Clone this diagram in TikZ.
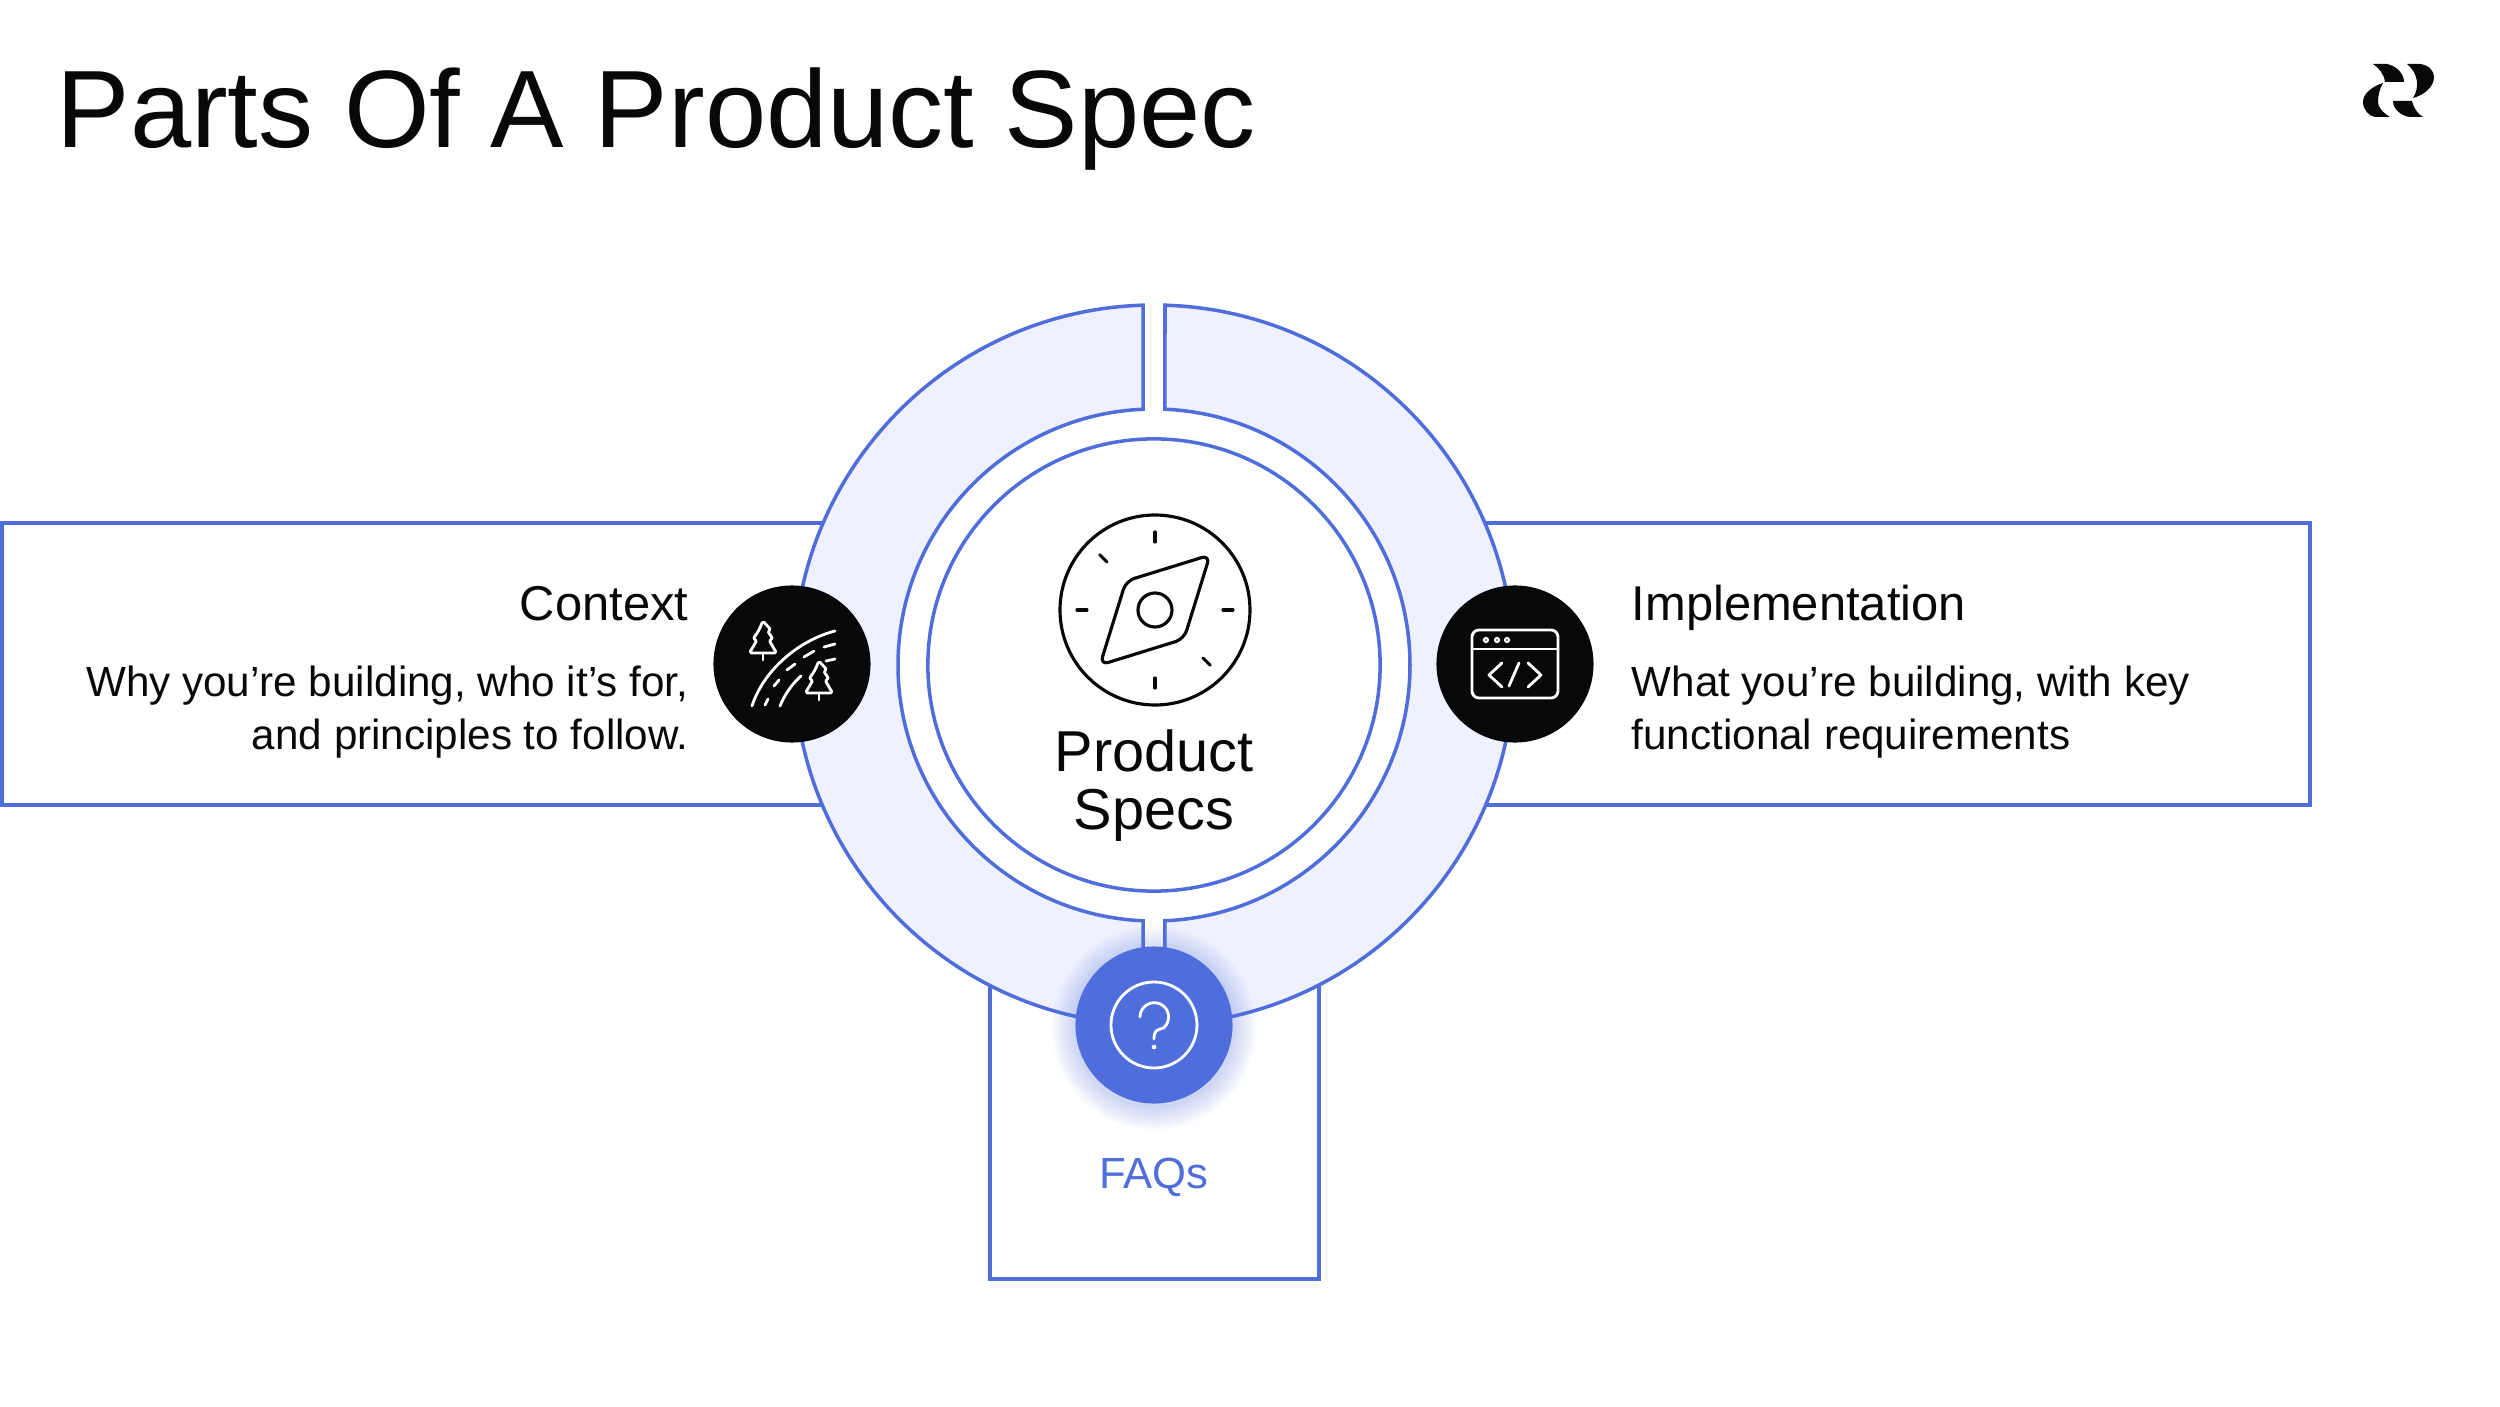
\documentclass[tikz,border=0pt]{standalone}
\usepackage{fontspec}
\usetikzlibrary{calc}
\setmainfont{Liberation Sans}
\definecolor{specblue}{HTML}{4F6EDB}
\definecolor{specfill}{HTML}{EFF1FE}
\definecolor{specink}{HTML}{070908}
\tikzset{
	partbox/.style={draw=specblue, line width=1pt, fill=white},
	ringpart/.style={draw=specblue, line width=1pt, fill=specfill},
	badge/.style={circle, inner sep=0pt, minimum size=1.57cm, fill=specink},
	iconline/.style={draw=white, line width=0.8pt, line cap=round, line join=round},
	compassline/.style={draw=specink, line width=0.9pt, line cap=round, line join=round},
	heading/.style={inner sep=0pt, text=specink, font=\fontsize{13.9pt}{16pt}\selectfont},
	bodytext/.style={inner sep=0pt, text=specink, font=\fontsize{12pt}{15pt}\selectfont},
	firtree/.pic={
		\draw[iconline, rounded corners=0.5pt] (0,0) -- (8,-9) -- (4.5,-10) -- (10,-18) -- (6,-19) -- (13.5,-32) -- (-13.5,-32) -- (-6,-19) -- (-10,-18) -- (-4.5,-10) -- cycle;
		\draw[iconline] (0,-32) -- (0,-39);
	}
}

\begin{document}
\begin{tikzpicture}[x=0.01cm, y=0.01cm]
		\useasboundingbox (-1154,665) rectangle (1346,-741);

		% boxes behind the ring
		\draw[partbox] (-1152,142) rectangle (-300,-140);
		\draw[partbox] (300,142) rectangle (1156,-140);
		\draw[partbox] (-164,-300) rectangle (165,-614);

		% ring halves and inner circle
		\draw[ringpart] (91.75:360) arc[start angle=91.75, end angle=268.25, radius=360] -- (267.54:256) arc[start angle=267.54, end angle=92.46, radius=256] -- cycle;
		\draw[ringpart] (88.25:360) arc[start angle=88.25, end angle=-88.25, radius=360] -- (-87.54:256) arc[start angle=-87.54, end angle=87.54, radius=256] -- cycle;
		\node[circle, draw=specblue, line width=1pt, minimum size=4.52cm, inner sep=0pt] (core) at (0,0) {};

		% compass
		\draw[compassline] (1,55) circle (95);
		\draw[compassline] (1,55) circle (17);
		\draw[compassline, rounded corners=2.5pt] (56,110) -- (-28,84) -- (-54,0) -- (30,26) -- cycle;
		\foreach \a in {0,90,135,180,270,315}
			\draw[compassline] ($(1,55)+(\a:68)$) -- ($(1,55)+(\a:78)$);

		% badges
		\node[badge] (context) at (-362,1) {};
		\node[badge] (impl) at (361,1) {};
		\foreach \r in {80,82,...,102}
			\fill[specblue, opacity=0.022] (0,-363) circle (\r);
		\node[badge, fill=specblue] (faq) at (0,-360) {};

		% road and trees
		\begin{scope}[shift={(context.center)}]
			\draw[iconline] (-40,-42) .. controls (-28,-5) and (8,24) .. (43,33);
			\draw[iconline] (-12,-42) .. controls (-7,-30) and (0,-20) .. (9,-12);
			\foreach \d in {{(-27,-41) -- (-24,-35)}, {(-18,-22) -- (-13,-16)}, {(-5,-6) -- (3,0)}, {(12,7) -- (22,13)}, {(32,17) -- (43,20)}, {(34,3) -- (43,5)}}
				\draw[iconline] \d;
			\pic at (-29,43) {firtree};
			\pic at (27,3) {firtree};
		\end{scope}

		% code window
		\begin{scope}[shift={(impl.center)}]
			\draw[iconline, rounded corners=2pt] (-43,34) rectangle (43,-34);
			\draw[iconline] (-43,15) -- (43,15);
			\foreach \x in {-29,-18,-8}
				\draw[white, line width=0.6pt] (\x,24) circle (2);
			\draw[iconline] (-13,1) -- (-26,-11) -- (-13,-23);
			\draw[iconline] (4,1) -- (-6,-22);
			\draw[iconline] (13,1) -- (26,-11) -- (13,-23);
		\end{scope}

		% question mark
		\begin{scope}[shift={(faq.center)}]
			\draw[iconline] (0,0) circle (43);
			\draw[iconline] (-14,8) arc[start angle=180, end angle=-50, radius=14.3] .. controls (3,-5) and (0,-5) .. (0,-14);
			\fill[white] (0,-22) circle (2.3);
		\end{scope}

		% logo
		\fill[specink] (1219,601) -- (1233,601) .. controls (1243,599) and (1250,591) .. (1250,583) -- (1231,583) .. controls (1230,591) and (1225,597) .. (1219,601) -- cycle;
		\fill[specink] (1253,601) -- (1266,601) .. controls (1275,600) and (1280,594) .. (1280,588) .. controls (1280,578) and (1270,570) .. (1259,567) .. controls (1266,578) and (1264,592) .. (1253,601) -- cycle;
		\fill[specink] (1229,582) .. controls (1217,578) and (1209,571) .. (1209,563) .. controls (1209,555) and (1215,549) .. (1221,548) -- (1236,548) .. controls (1228,553) and (1224,558) .. (1224,563) .. controls (1224,570) and (1226,577) .. (1229,582) -- cycle;
		\fill[specink] (1239,564) -- (1258,564) .. controls (1260,556) and (1264,551) .. (1269,548) -- (1256,548) .. controls (1247,549) and (1239,556) .. (1239,564) -- cycle;

		% texts
		\node[anchor=base west, inner sep=0pt, text=specink, font=\fontsize{31.3pt}{36pt}\selectfont] (title) at (-1098,517) {Parts Of A Product Spec};
		\node[heading, anchor=base east] (contexthead) at (-465,45) {Context};
		\node[bodytext, anchor=north east, align=right] (contextbody) at (-465,0) {Why you’re building, who it’s for,\\and principles to follow.};
		\node[heading, anchor=base west] (implhead) at (477,45) {Implementation};
		\node[bodytext, anchor=north west, align=left] (implbody) at (477,0) {What you’re building, with key\\functional requirements};
		\node[anchor=base, inner sep=0pt, text=specink, font=\fontsize{16.4pt}{16pt}\selectfont] (product) at (0,-106) {Product};
		\node[anchor=base, inner sep=0pt, text=specink, font=\fontsize{16.4pt}{16pt}\selectfont] (specs) at (0,-164) {Specs};
		\node[anchor=base, inner sep=0pt, text=specblue, font=\fontsize{12.4pt}{15pt}\selectfont] (faqs) at (0,-523) {FAQs};
\end{tikzpicture}
\end{document}
